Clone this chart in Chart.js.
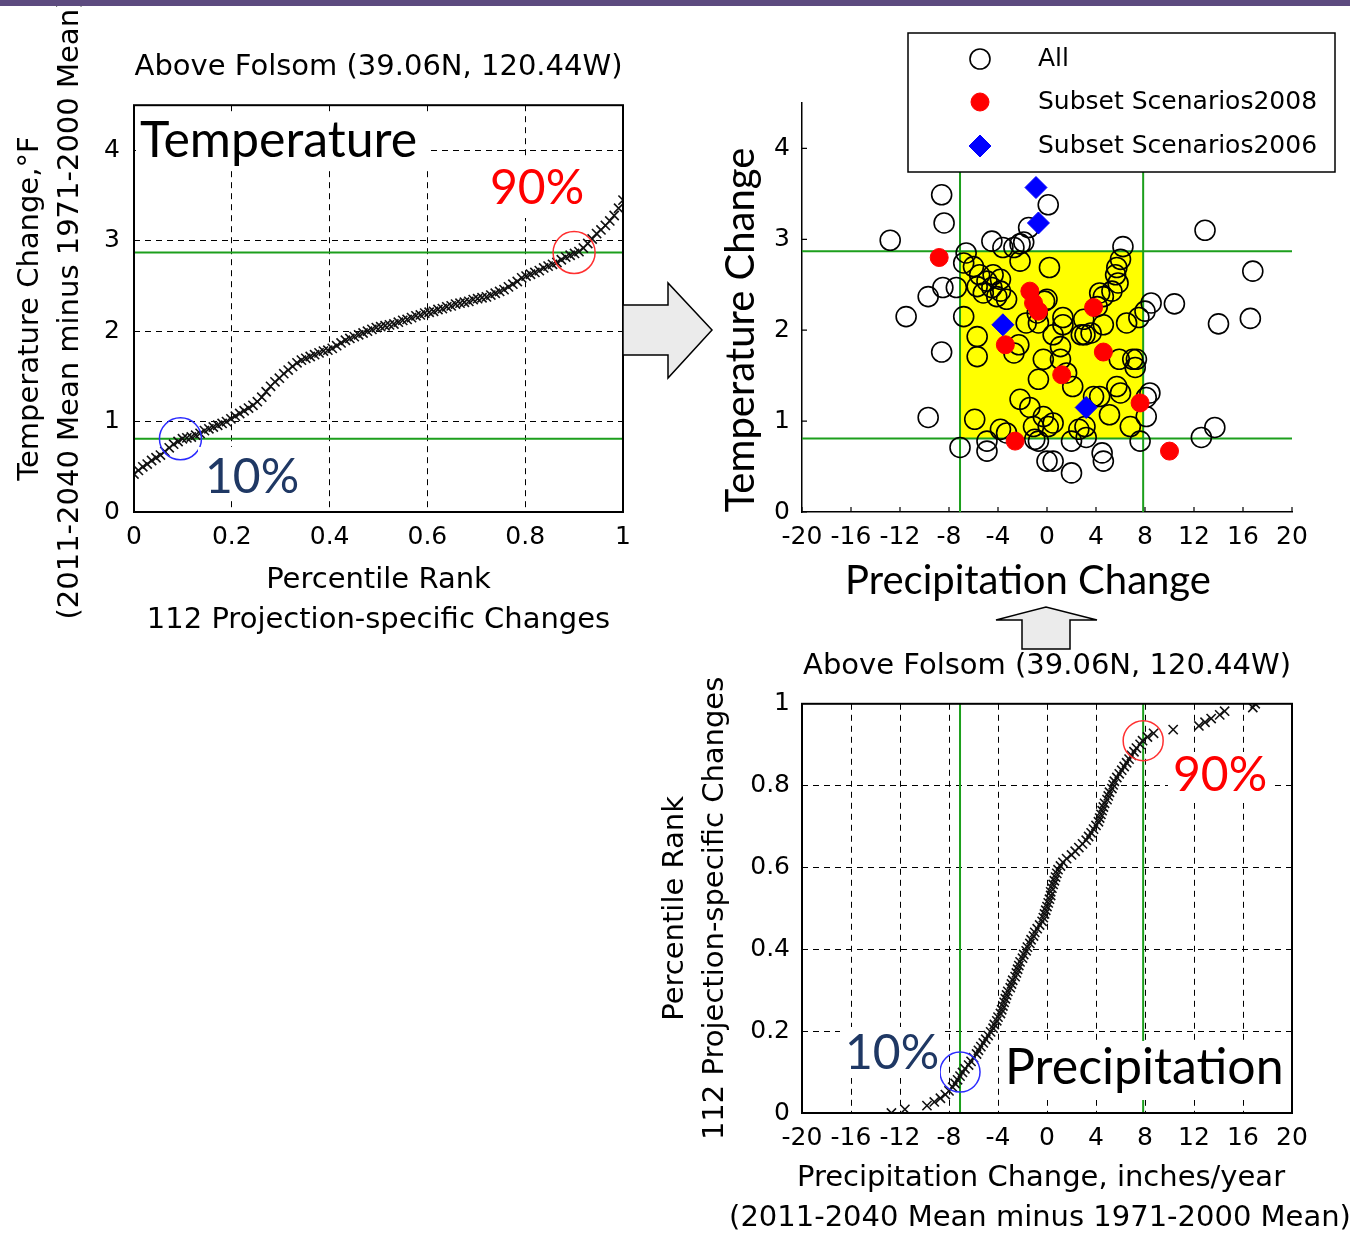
<!DOCTYPE html>
<html>
<head>
<meta charset="utf-8">
<title>Above Folsom - temperature and precipitation change</title>
<script src="https://cdn.jsdelivr.net/npm/chart.js@4.4.1/dist/chart.umd.min.js"></script>
<style>
  body { margin: 0; background: #fff; }
  #page { position: relative; width: 1350px; height: 1238px; overflow: hidden; background: #fff; }
  #topbar { position: absolute; left: 0; top: 0; width: 1350px; height: 6px; background: #5d4b7f; }
  canvas { position: absolute; }
  #arrows { position: absolute; left: 0; top: 0; }
</style>
</head>
<body>
<div id="page">
  <canvas id="tempRank" width="650" height="640" style="left:0;top:0"></canvas>
  <canvas id="scatter" width="650" height="610" style="left:700px;top:0"></canvas>
  <canvas id="precipRank" width="710" height="618" style="left:640px;top:620px"></canvas>
  <svg id="arrows" width="1350" height="1238">
    <polygon points="623,305 668,305 668,283 712,330 668,378 668,355 623,355" fill="#ebebeb" stroke="#000" stroke-width="1.5"/>
    <polygon points="1022,649 1022,620 996,620 1046,607 1097,620 1070,620 1070,649" fill="#ebebeb" stroke="#000" stroke-width="1.5"/>
  </svg>
  <div id="topbar"></div>
</div>

<script>
// ---------- DATA ----------
const STATION = "Above Folsom (39.06N, 120.44W)";

// 112 projection-specific temperature changes (deg F), sorted
const tempSorted = [
  0.42, 0.46, 0.50, 0.53, 0.57, 0.60,
  0.63, 0.67, 0.71, 0.75, 0.78, 0.81,
  0.82, 0.83, 0.85, 0.87, 0.90,
  0.92, 0.94, 0.96, 0.98, 1.00, 1.03,
  1.06, 1.09, 1.12, 1.15, 1.18,
  1.22, 1.27, 1.33, 1.39, 1.44, 1.48,
  1.53, 1.57, 1.61, 1.65, 1.68,
  1.70, 1.72, 1.74, 1.76, 1.78, 1.79,
  1.81, 1.84, 1.87, 1.90, 1.92,
  1.94, 1.96, 1.98, 2.00, 2.02, 2.04,
  2.05, 2.06, 2.07, 2.08, 2.10, 2.12,
  2.13, 2.15, 2.17, 2.18, 2.20,
  2.21, 2.22, 2.24, 2.25, 2.27, 2.28,
  2.30, 2.31, 2.32, 2.33, 2.35,
  2.36, 2.37, 2.38, 2.40, 2.42, 2.44,
  2.46, 2.49, 2.52, 2.55, 2.59,
  2.61, 2.63, 2.65, 2.67, 2.70, 2.72,
  2.74, 2.76, 2.79, 2.82, 2.84,
  2.86, 2.88, 2.92, 2.97, 3.02, 3.08,
  3.12, 3.17, 3.22, 3.28, 3.36, 3.45
];

// 112 projection-specific precipitation changes (inches/year), sorted
const precipSorted = [
  -12.7, -11.6, -9.8, -9.2, -8.7, -8.3, -8.0, -7.7, -7.5, -7.3,
  -7.1, -6.9, -6.7, -6.4, -6.2, -6.0, -5.75, -5.6, -5.4, -5.2,
  -5.0, -4.8, -4.6, -4.4, -4.3, -4.1, -4.0, -3.8, -3.7, -3.6,
  -3.5, -3.4, -3.3, -3.2, -3.0, -2.9, -2.8, -2.6, -2.5, -2.4,
  -2.3, -2.2, -2.0, -1.9, -1.7, -1.6, -1.4, -1.3, -1.1, -1.0,
  -0.8, -0.6, -0.4, -0.3, -0.2, -0.1, 0.0, 0.1, 0.2, 0.3,
  0.3, 0.4, 0.5, 0.6, 0.7, 0.8, 0.9, 1.1, 1.3, 1.6,
  2.0, 2.3, 2.6, 2.9, 3.2, 3.4, 3.6, 3.8, 4.0, 4.2,
  4.3, 4.4, 4.5, 4.6, 4.7, 4.9, 5.0, 5.1, 5.3, 5.4,
  5.5, 5.7, 5.9, 6.1, 6.3, 6.5, 6.7, 6.9, 7.1, 7.3,
  7.6, 7.8, 8.2, 8.7, 10.3, 12.4, 12.9, 13.4, 14.1, 14.5,
  16.8, 17.0
];

// 10% / 90% thresholds
const tempBand   = [0.81, 2.87];
const precipBand = [-7.1, 7.85];

// scatter: all projections (precip, temp)
const allPrecip = [
  -8.6, -8.4, -12.8, 0.1, -1.5, 12.9, 16.8, 16.6, 14.0, 10.4,
  8.5, 8.0, -11.5, -9.7, -8.5, -7.4, -8.6, -9.7, -7.1, -4.9,
  0.0, 0.5, 2.0, 4.5, 4.6, 7.6, 8.1, 8.1, 12.6, 13.7,
  -4.5, -3.6, -2.7, -1.9, 6.2, -6.6, -4.9, -0.7, 2.0, 3.2,
  -6.8, -6.0, -5.5, -4.9, -4.5, -3.8, -4.1, -3.3, -5.2, -5.7,
  -3.8, -2.2, 0.2, 0.0, -0.8, 1.3, 3.0, 4.6, 5.3, 5.7,
  6.0, 5.6, 4.1, 3.1, 4.6, 6.5, 7.0, 5.9, 5.7, 7.2,
  4.3, 5.1, 2.1, 1.6, 1.1, -0.3, -0.7, -2.2, -1.4, -0.3,
  0.5, 0.1, 2.6, 3.1, -5.9, -5.7, -5.7, -6.8, -2.3, 0.5,
  1.3, -1.7, -0.2, 6.8, 7.3, 6.0, 3.8, 1.1, 2.8, 3.6,
  -3.3, -3.8, -1.1, -4.4, 5.8, 4.3, 8.4, 7.5, -2.2, -0.7,
  -2.7, -1.0
];
const allTemp = [
  3.49, 3.18, 2.99, 3.38, 3.13, 3.10, 2.65, 2.13, 2.07, 2.29,
  2.30, 2.21, 2.15, 2.37, 2.47, 2.47, 1.76, 1.04, 0.71, 0.67,
  0.56, 0.56, 0.43, 0.65, 0.56, 0.78, 1.05, 1.26, 0.82, 0.93,
  2.98, 2.91, 2.91, 2.97, 2.92, 2.85, 0.78, 0.78, 0.78, 0.82,
  2.74, 2.70, 2.61, 2.54, 2.47, 2.43, 2.37, 2.34, 2.41, 2.48,
  2.56, 2.76, 2.69, 2.34, 2.19, 2.14, 2.12, 2.37, 2.43, 2.69,
  2.78, 2.61, 2.26, 1.95, 2.06, 2.08, 1.68, 1.68, 1.38, 1.59,
  1.27, 1.07, 1.38, 1.53, 1.68, 1.68, 1.46, 1.24, 1.15, 1.05,
  0.98, 0.94, 0.91, 0.94, 1.02, 1.71, 1.93, 2.15, 1.84, 1.95,
  2.06, 2.08, 2.32, 0.94, 1.68, 1.31, 1.27, 1.82, 1.95, 1.97,
  0.87, 0.91, 0.94, 2.61, 2.52, 2.41, 1.31, 2.14, 2.95, 2.08,
  1.75, 0.80
];

// subset scenarios 2008 (red) and 2006 (blue)
const sub2008Precip = [-8.8, -1.4, -1.1, -0.7, 3.8, -3.4, 4.6, 1.2, 7.6, -2.6, 10.0];
const sub2008Temp   = [2.80, 2.43, 2.30, 2.21, 2.25, 1.84, 1.76, 1.51, 1.20, 0.78, 0.67];
const sub2006Precip = [-0.9, -0.7, -3.6, 3.2];
const sub2006Temp   = [3.57, 3.18, 2.06, 1.15];

// tick labels
const rankTicks   = [0, 0.2, 0.4, 0.6, 0.8, 1];
const tempTicks   = [0, 1, 2, 3, 4];
const precipTicks = [-20, -16, -12, -8, -4, 0, 4, 8, 12, 16, 20];

// percentile rank of each sorted projection
const rank = precipSorted.map((_, i) => i / (precipSorted.length - 1));

// ---------- STYLE ----------
Chart.defaults.font.family = "'DejaVu Sans', sans-serif";
Chart.defaults.color = "#000";
Chart.defaults.animation = false;

const GREEN = "#1c9f1c";
const NAVY  = "#1f3864";
const tickText = v => String(Math.round(v * 100) / 100);

function pts(xs, ys) {
  return xs.map((v, i) => ({ x: v, y: ys[i] }));
}

// MATLAB-like axis with dashed grid
function gridScale(min, max, tickValues, size, pad, title, titlePad) {
  return {
    type: "linear", min: min, max: max,
    afterBuildTicks: s => { s.ticks = tickValues.map(v => ({ value: v })); },
    afterFit: s => { if (s.isHorizontal()) s.height = size; else s.width = size; },
    grid: { color: "#000", lineWidth: 1, drawTicks: false },
    border: { display: false, dash: [6, 5] },
    ticks: { padding: pad, font: { size: 25 }, color: "#000", autoSkip: false, maxRotation: 0, callback: tickText },
    title: { display: !!title, text: title || "", color: "#000", font: { size: 29, lineHeight: 40 / 29 }, padding: titlePad }
  };
}

function drawMarker(ctx, style, x, y, r, fill, stroke, lw) {
  ctx.beginPath();
  if (style === "rectRot") {
    ctx.moveTo(x, y - r); ctx.lineTo(x + r, y); ctx.lineTo(x, y + r); ctx.lineTo(x - r, y); ctx.closePath();
  } else {
    ctx.arc(x, y, r, 0, Math.PI * 2);
  }
  if (fill && fill !== "transparent") { ctx.fillStyle = fill; ctx.fill(); }
  if (stroke && lw) { ctx.strokeStyle = stroke; ctx.lineWidth = lw; ctx.stroke(); }
}

// overlay: yellow band, green threshold lines, rings, text boxes, frame, legend
function overlay(cfg) {
  return {
    id: "overlay",
    beforeDatasetsDraw(chart) {
      const { ctx, chartArea: a, scales: { x, y } } = chart;
      ctx.save();
      if (cfg.band) {
        const px0 = x.getPixelForValue(cfg.band.x[0]), px1 = x.getPixelForValue(cfg.band.x[1]);
        const py0 = y.getPixelForValue(cfg.band.y[0]), py1 = y.getPixelForValue(cfg.band.y[1]);
        ctx.fillStyle = "#ffff00";
        ctx.fillRect(px0, py1, px1 - px0, py0 - py1);
      }
      ctx.strokeStyle = GREEN;
      ctx.lineWidth = 2;
      ctx.beginPath();
      (cfg.hLines || []).forEach(v => { const py = y.getPixelForValue(v); ctx.moveTo(a.left, py); ctx.lineTo(a.right, py); });
      (cfg.vLines || []).forEach(v => { const px = x.getPixelForValue(v); ctx.moveTo(px, a.top); ctx.lineTo(px, a.bottom); });
      ctx.stroke();
      ctx.restore();
    },
    afterDatasetsDraw(chart) {
      const { ctx, scales: { x, y } } = chart;
      ctx.save();
      (cfg.rings || []).forEach(r => {
        ctx.beginPath();
        ctx.arc(x.getPixelForValue(r.x), y.getPixelForValue(r.y), r.r, 0, Math.PI * 2);
        ctx.strokeStyle = r.color;
        ctx.lineWidth = 1.5;
        ctx.stroke();
      });
      (cfg.notes || []).forEach(n => {
        ctx.fillStyle = "#fff";
        ctx.fillRect(n.box[0], n.box[1], n.box[2] - n.box[0], n.box[3] - n.box[1]);
        ctx.font = n.font;
        ctx.fillStyle = n.color;
        ctx.textAlign = "left";
        ctx.textBaseline = "alphabetic";
        ctx.fillText(n.text, n.x, n.y);
      });
      ctx.restore();
    },
    afterDraw(chart) {
      const { ctx, chartArea: a, scales: { x, y } } = chart;
      ctx.save();
      ctx.strokeStyle = "#000";
      if (cfg.frame) {
        ctx.lineWidth = 2;
        ctx.strokeRect(a.left, a.top, a.right - a.left, a.bottom - a.top);
      }
      if (cfg.innerTicks) {
        ctx.lineWidth = 1.2;
        ctx.beginPath();
        x.ticks.forEach(t => { const px = x.getPixelForValue(t.value); ctx.moveTo(px, a.bottom); ctx.lineTo(px, a.bottom - 5); });
        y.ticks.forEach(t => { const py = y.getPixelForValue(t.value); ctx.moveTo(a.left, py); ctx.lineTo(a.left + 5, py); });
        ctx.stroke();
      }
      (cfg.labels || []).forEach(l => {
        ctx.save();
        ctx.translate(l.x, l.y);
        ctx.rotate(l.rot || 0);
        ctx.font = l.font;
        ctx.fillStyle = "#000";
        ctx.textAlign = "center";
        ctx.textBaseline = "middle";
        ctx.fillText(l.text, 0, 0);
        ctx.restore();
      });
      if (cfg.legend) {
        const lg = cfg.legend;
        ctx.fillStyle = "#fff";
        ctx.fillRect(lg.box[0], lg.box[1], lg.box[2] - lg.box[0], lg.box[3] - lg.box[1]);
        ctx.lineWidth = 1.5;
        ctx.strokeStyle = "#000";
        ctx.strokeRect(lg.box[0], lg.box[1], lg.box[2] - lg.box[0], lg.box[3] - lg.box[1]);
        chart.data.datasets.forEach((ds, i) => {
          const cy = lg.rows[i];
          drawMarker(ctx, ds.pointStyle, lg.markerX, cy, ds.pointRadius, ds.pointBackgroundColor, ds.pointBorderColor, ds.pointBorderWidth);
          ctx.font = lg.font;
          ctx.fillStyle = "#000";
          ctx.textAlign = "left";
          ctx.textBaseline = "middle";
          ctx.fillText(ds.label, lg.textX, cy);
        });
      }
      ctx.restore();
    }
  };
}

const crossStyle = {
  showLine: false,
  pointStyle: "crossRot",
  pointRadius: 6.5,
  pointBorderWidth: 1.6,
  pointBorderColor: "#111",
  pointBackgroundColor: "#111"
};

// ---------- CHART 1: temperature vs percentile rank ----------
new Chart(document.getElementById("tempRank"), {
  type: "scatter",
  data: {
    datasets: [Object.assign({ label: "Temperature", data: pts(rank, tempSorted) }, crossStyle)]
  },
  options: {
    responsive: false,
    events: [],
    layout: { padding: { top: 50.4, right: 27, left: 0, bottom: 0 } },
    scales: {
      x: gridScale(0, 1, rankTicks, 128, 10, ["Percentile Rank", "112 Projection-specific Changes"], { top: 0, bottom: 0 }),
      y: gridScale(0, 4.5, tempTicks, 134, 14, ["Temperature Change,\u00B0F", "(2011-2040 Mean minus 1971-2000 Mean)"], { top: 10, bottom: 0 })
    },
    plugins: {
      legend: { display: false },
      tooltip: { enabled: false },
      title: { display: true, text: STATION, color: "#000", fullSize: false, font: { size: 29, weight: "normal" }, padding: { top: 0, bottom: 20 } }
    }
  },
  plugins: [overlay({
    frame: true,
    hLines: tempBand,
    rings: [{ x: 0.095, y: tempBand[0], r: 21, color: "#2b2bff" }, { x: 0.9, y: tempBand[1], r: 21, color: "#ff3030" }],
    notes: [
      { text: "Temperature", x: 140, y: 157, font: "50px Lato", color: "#000", box: [136, 112, 428, 171] },
      { text: "90%", x: 490, y: 204, font: "48px Lato", color: "#ff0000", box: [484, 160, 592, 218] },
      { text: "10%", x: 205, y: 493, font: "48px Lato", color: NAVY, box: [198, 447, 302, 497] }
    ]
  })]
});

// ---------- CHART 2: temperature change vs precipitation change ----------
new Chart(document.getElementById("scatter"), {
  type: "scatter",
  data: {
    datasets: [
      { label: "All", data: pts(allPrecip, allTemp), order: 3,
        pointStyle: "circle", pointRadius: 10, pointBorderWidth: 1.6,
        pointBorderColor: "#000", pointBackgroundColor: "transparent" },
      { label: "Subset Scenarios2008", data: pts(sub2008Precip, sub2008Temp), order: 2,
        pointStyle: "circle", pointRadius: 9, pointBorderWidth: 1,
        pointBorderColor: "#ff0000", pointBackgroundColor: "#ff0000" },
      { label: "Subset Scenarios2006", data: pts(sub2006Precip, sub2006Temp), order: 1,
        pointStyle: "rectRot", pointRadius: 11, pointBorderWidth: 1,
        pointBorderColor: "#0000ff", pointBackgroundColor: "#0000ff" }
    ]
  },
  options: {
    responsive: false,
    events: [],
    layout: { padding: { top: 103, right: 58, left: 0, bottom: 0 } },
    scales: {
      x: {
        type: "linear", min: -20, max: 20,
        afterBuildTicks: s => { s.ticks = precipTicks.map(v => ({ value: v })); },
        afterFit: s => { s.height = 98; },
        grid: { drawOnChartArea: false, drawTicks: false },
        border: { display: true, color: "#000", width: 1.5 },
        ticks: { padding: 10, font: { size: 25 }, color: "#000", autoSkip: false, maxRotation: 0, callback: tickText }
      },
      y: {
        type: "linear", min: 0, max: 4.5,
        afterBuildTicks: s => { s.ticks = tempTicks.map(v => ({ value: v })); },
        afterFit: s => { s.width = 102; },
        grid: { drawOnChartArea: false, drawTicks: false },
        border: { display: true, color: "#000", width: 1.5 },
        ticks: { padding: 12, font: { size: 25 }, color: "#000", autoSkip: false, callback: tickText }
      }
    },
    plugins: { legend: { display: false }, tooltip: { enabled: false } }
  },
  plugins: [overlay({
    band: { x: precipBand, y: tempBand },
    hLines: tempBand,
    vLines: precipBand,
    innerTicks: true,
    labels: [
      { text: "Temperature Change", x: 41, y: 330, rot: -Math.PI / 2, font: "40px Lato" },
      { text: "Precipitation Change", x: 328, y: 581, font: "40px Lato" }
    ],
    legend: { box: [208, 33, 635, 172], markerX: 280, textX: 338, rows: [59, 102, 146], font: "25px 'DejaVu Sans'" }
  })]
});

// ---------- CHART 3: percentile rank vs precipitation ----------
new Chart(document.getElementById("precipRank"), {
  type: "scatter",
  data: {
    datasets: [Object.assign({ label: "Precipitation", data: pts(precipSorted, rank) }, crossStyle)]
  },
  options: {
    responsive: false,
    events: [],
    layout: { padding: { top: 29, right: 58, left: 0, bottom: 0 } },
    scales: {
      x: gridScale(-20, 20, precipTicks, 125, 10, null, { top: 0, bottom: 0 }),
      y: gridScale(0, 1, rankTicks, 162, 12, ["Percentile Rank", "112 Projection-specific Changes"], { top: 15, bottom: 0 })
    },
    plugins: {
      legend: { display: false },
      tooltip: { enabled: false },
      title: { display: true, text: STATION, color: "#000", fullSize: false, font: { size: 29, weight: "normal" }, padding: { top: 0, bottom: 20 } }
    }
  },
  plugins: [overlay({
    frame: true,
    vLines: precipBand,
    rings: [{ x: precipBand[0], y: 0.1, r: 20, color: "#2b2bff" }, { x: precipBand[1], y: 0.91, r: 20, color: "#ff3030" }],
    labels: [
      { text: "Precipitation Change, inches/year", x: 401, y: 558, font: "29px 'DejaVu Sans'" },
      { text: "(2011-2040 Mean minus 1971-2000 Mean)", x: 400, y: 598, font: "29px 'DejaVu Sans'" }
    ],
    notes: [
      { text: "90%", x: 533, y: 171, font: "48px Lato", color: "#ff0000", box: [528, 132, 632, 183] },
      { text: "10%", x: 205, y: 449, font: "48px Lato", color: NAVY, box: [200, 407, 300, 458] },
      { text: "Precipitation", x: 365, y: 464, font: "50px Lato", color: "#000", box: [360, 421, 646, 480] }
    ]
  })]
});
</script>
</body>
</html>
